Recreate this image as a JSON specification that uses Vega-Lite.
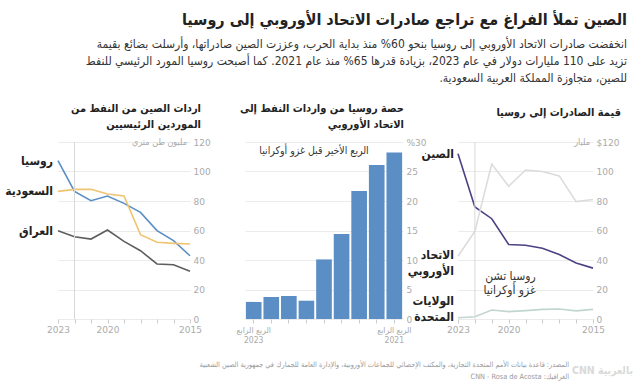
{
  "$schema": "https://vega.github.io/schema/vega-lite/v6.json",
  "background": "white",
  "padding": {"top": 12, "left": 5, "right": 5, "bottom": 2},
  "config": {
    "font": "DejaVu Sans Condensed",
    "view": {"stroke": null},
    "axis": {"labelFont": "DejaVu Sans", "labelColor": "#aaaaaa", "labelFontSize": 9, "title": null, "domain": false, "gridColor": "#ebebeb", "tickColor": "#cccccc", "labelOverlap": false, "labelFlush": false}
  },
  "title": {
    "text": "الصين تملأ الفراغ مع تراجع صادرات الاتحاد الأوروبي إلى روسيا",
    "subtitle": [
      "انخفضت صادرات الاتحاد الأوروبي إلى روسيا بنحو 60% منذ بداية الحرب، وعززت الصين صادراتها، وأرسلت بضائع بقيمة",
      "تزيد على 110 مليارات دولار في عام 2023، بزيادة قدرها 65% منذ عام 2021. كما أصبحت روسيا المورد الرئيسي للنفط",
      "للصين، متجاوزة المملكة العربية السعودية.\u200f"
    ],
    "anchor": "end",
    "font": "DejaVu Sans Condensed",
    "fontSize": 16,
    "fontWeight": "bold",
    "color": "#222222",
    "subtitleFont": "DejaVu Sans Condensed",
    "subtitleFontSize": 12,
    "subtitleColor": "#333333",
    "subtitleLineHeight": 17,
    "subtitlePadding": 11,
    "offset": 19,
    "dx": -6
  },
  "vconcat": [
    {
      "title": {
        "text": "CNN بالعربية",
        "orient": "bottom",
        "anchor": "end",
        "font": "DejaVu Sans Condensed",
        "fontSize": 10.5,
        "fontWeight": "bold",
        "color": "#d9d9d9",
        "offset": 0,
        "dy": -14,
        "dx": 12
      },
      "vconcat": [
        {
          "bounds": "flush",
          "spacing": 55,
          "resolve": {"scale": {"color": "independent"}},
          "title": {
            "text": [
              "المصدر: قاعدة بيانات الأمم المتحدة التجارية، والمكتب الإحصائي للجماعات الأوروبية، والإدارة العامة للجمارك في جمهورية الصين الشعبية",
              "CNN - Rosa de Acosta :الغرافيك"
            ],
            "orient": "bottom",
            "anchor": "end",
            "font": "DejaVu Sans Condensed",
            "fontSize": 7.3,
            "fontWeight": "normal",
            "color": "#999999",
            "lineHeight": 12,
            "offset": 17,
            "dx": -52
          },
          "hconcat": [
            {
              "width": 132,
              "height": 177,
              "title": {"text": ["اردات الصين من النفط من", "الموردين الرئيسيين"], "anchor": "end", "frame": "group", "fontSize": 11, "fontWeight": "bold", "color": "#222222", "lineHeight": 16, "offset": 8, "dx": 11},
              "data": {"values": [
                {"year": 2015, "country": "روسيا", "value": 42.9},
                {"year": 2016, "country": "روسيا", "value": 53.1},
                {"year": 2017, "country": "روسيا", "value": 59.9},
                {"year": 2018, "country": "روسيا", "value": 72.3},
                {"year": 2019, "country": "روسيا", "value": 78.4},
                {"year": 2020, "country": "روسيا", "value": 83.4},
                {"year": 2021, "country": "روسيا", "value": 80.2},
                {"year": 2022, "country": "روسيا", "value": 86.5},
                {"year": 2023, "country": "روسيا", "value": 107.3},
                {"year": 2015, "country": "السعودية", "value": 50.8},
                {"year": 2016, "country": "السعودية", "value": 51.3},
                {"year": 2017, "country": "السعودية", "value": 52.0},
                {"year": 2018, "country": "السعودية", "value": 57.2},
                {"year": 2019, "country": "السعودية", "value": 83.4},
                {"year": 2020, "country": "السعودية", "value": 84.7},
                {"year": 2021, "country": "السعودية", "value": 87.9},
                {"year": 2022, "country": "السعودية", "value": 87.9},
                {"year": 2023, "country": "السعودية", "value": 86.5},
                {"year": 2015, "country": "العراق", "value": 32.3},
                {"year": 2016, "country": "العراق", "value": 36.8},
                {"year": 2017, "country": "العراق", "value": 37.3},
                {"year": 2018, "country": "العراق", "value": 46.3},
                {"year": 2019, "country": "العراق", "value": 52.6},
                {"year": 2020, "country": "العراق", "value": 60.3},
                {"year": 2021, "country": "العراق", "value": 54.2},
                {"year": 2022, "country": "العراق", "value": 55.8},
                {"year": 2023, "country": "العراق", "value": 59.9}
              ]},
              "layer": [
                {
                  "mark": {"type": "line", "strokeWidth": 1.6},
                  "encoding": {
                    "x": {"field": "year", "type": "quantitative", "scale": {"domain": [2015, 2023], "reverse": true, "nice": false, "zero": false},
                      "axis": {"values": [2015, 2016, 2017, 2018, 2019, 2020, 2021, 2022, 2023], "tickCount": 20, "format": "d", "labelExpr": "(datum.value == 2015 || datum.value == 2020 || datum.value == 2023) ? datum.label : ''", "grid": false, "ticks": true, "tickSize": 4, "labelPadding": 2, "labelOverlap": false, "labelFlush": false}},
                    "y": {"field": "value", "type": "quantitative", "scale": {"domain": [0, 120], "nice": false},
                      "axis": {"orient": "right", "values": [0, 20, 40, 60, 80, 100, 120], "tickCount": 20, "grid": true, "ticks": false, "labelAlign": "left", "labelBaseline": "middle", "labelPadding": 3, "labelOverlap": false}},
                    "color": {"field": "country", "type": "nominal", "legend": null,
                      "scale": {"domain": ["روسيا", "السعودية", "العراق"], "range": ["#5b8ec4", "#f0c470", "#5e5e5e"]}}
                  }
                },
                {
                  "data": {"values": [{"year": 2022}]},
                  "mark": {"type": "rule", "color": "#d9d9d9", "strokeWidth": 1},
                  "encoding": {"x": {"field": "year", "type": "quantitative"}}
                },
                {
                  "data": {"values": [{"year": 2015, "value": 120, "unit": "مليون طن متري"}]},
                  "mark": {"type": "text", "align": "right", "baseline": "middle", "dx": -3, "fontSize": 9, "color": "#aaaaaa"},
                  "encoding": {"x": {"field": "year", "type": "quantitative"}, "y": {"field": "value", "type": "quantitative"}, "text": {"field": "unit"}}
                },
                {
                  "transform": [{"filter": "datum.year == 2023"}],
                  "mark": {"type": "text", "align": "right", "baseline": "middle", "dx": -5, "fontSize": 12, "fontWeight": "bold", "color": "#222222"},
                  "encoding": {"x": {"field": "year", "type": "quantitative"}, "y": {"field": "value", "type": "quantitative"}, "text": {"field": "country"}}
                }
              ]
            },
            {
              "width": 158,
              "height": 177,
              "title": {"text": ["حصة روسيا من واردات النفط إلى", "الاتحاد الأوروبي"], "anchor": "end", "frame": "group", "fontSize": 11, "fontWeight": "bold", "color": "#222222", "lineHeight": 16, "offset": 8, "dx": 1},
              "data": {"values": [
                {"quarter": "2021Q4", "share": 28.2},
                {"quarter": "2022Q1", "share": 26.1},
                {"quarter": "2022Q2", "share": 21.7},
                {"quarter": "2022Q3", "share": 14.4},
                {"quarter": "2022Q4", "share": 10.1},
                {"quarter": "2023Q1", "share": 3.1},
                {"quarter": "2023Q2", "share": 3.9},
                {"quarter": "2023Q3", "share": 3.75},
                {"quarter": "2023Q4", "share": 2.9}
              ]},
              "layer": [
                {
                  "mark": {"type": "bar", "color": "#5b8ec4"},
                  "encoding": {
                    "x": {"field": "quarter", "type": "ordinal", "scale": {"reverse": true, "paddingInner": 0.11, "paddingOuter": 0.05},
                      "axis": {"labelExpr": "datum.value == '2023Q4' ? ['الربع الرابع', '2023'] : (datum.value == '2021Q4' ? ['الربع الرابع', '2021'] : '')", "labelAngle": 0, "labelFont": "DejaVu Sans Condensed", "labelFontSize": 8.5, "ticks": true, "tickSize": 4, "labelPadding": 2, "labelLineHeight": 10, "grid": false, "labelOverlap": false}},
                    "y": {"field": "share", "type": "quantitative", "scale": {"domain": [0, 30], "nice": false},
                      "axis": {"orient": "right", "values": [0, 5, 10, 15, 20, 25, 30], "tickCount": 20, "labelExpr": "datum.value == 30 ? '%30' : datum.label", "grid": true, "ticks": false, "labelAlign": "left", "labelBaseline": "middle", "labelPadding": 3, "labelOverlap": false}}
                  }
                },
                {
                  "data": {"values": [{"quarter": "2022Q1", "share": 28.4, "note": "الربع الأخير قبل غزو أوكرانيا"}]},
                  "mark": {"type": "text", "align": "right", "baseline": "middle", "dx": -8, "fontSize": 10.5, "color": "#333333"},
                  "encoding": {"x": {"field": "quarter", "type": "ordinal"}, "y": {"field": "share", "type": "quantitative"}, "text": {"field": "note"}}
                }
              ]
            },
            {
              "width": 135,
              "height": 177,
              "title": {"text": "قيمة الصادرات إلى روسيا", "anchor": "end", "frame": "group", "fontSize": 11, "fontWeight": "bold", "color": "#222222", "offset": 20, "dx": 28},
              "data": {"values": [
                {"year": 2015, "region": "الصين", "value": 34.5},
                {"year": 2016, "region": "الصين", "value": 38},
                {"year": 2017, "region": "الصين", "value": 43.7},
                {"year": 2018, "region": "الصين", "value": 48},
                {"year": 2019, "region": "الصين", "value": 50},
                {"year": 2020, "region": "الصين", "value": 50.5},
                {"year": 2021, "region": "الصين", "value": 68},
                {"year": 2022, "region": "الصين", "value": 76},
                {"year": 2023, "region": "الصين", "value": 112},
                {"year": 2015, "region": "الاتحاد الأوروبي", "value": 81},
                {"year": 2016, "region": "الاتحاد الأوروبي", "value": 79.6},
                {"year": 2017, "region": "الاتحاد الأوروبي", "value": 97},
                {"year": 2018, "region": "الاتحاد الأوروبي", "value": 100},
                {"year": 2019, "region": "الاتحاد الأوروبي", "value": 101},
                {"year": 2020, "region": "الاتحاد الأوروبي", "value": 90},
                {"year": 2021, "region": "الاتحاد الأوروبي", "value": 105},
                {"year": 2022, "region": "الاتحاد الأوروبي", "value": 59.6},
                {"year": 2023, "region": "الاتحاد الأوروبي", "value": 42.5},
                {"year": 2015, "region": "الولايات المتحدة", "value": 6.5},
                {"year": 2016, "region": "الولايات المتحدة", "value": 5.5},
                {"year": 2017, "region": "الولايات المتحدة", "value": 6.8},
                {"year": 2018, "region": "الولايات المتحدة", "value": 6.5},
                {"year": 2019, "region": "الولايات المتحدة", "value": 5.7},
                {"year": 2020, "region": "الولايات المتحدة", "value": 5},
                {"year": 2021, "region": "الولايات المتحدة", "value": 6.1},
                {"year": 2022, "region": "الولايات المتحدة", "value": 1.5},
                {"year": 2023, "region": "الولايات المتحدة", "value": 0.8}
              ]},
              "layer": [
                {
                  "mark": {"type": "line", "strokeWidth": 1.6},
                  "encoding": {
                    "x": {"field": "year", "type": "quantitative", "scale": {"domain": [2015, 2023], "reverse": true, "nice": false, "zero": false},
                      "axis": {"values": [2015, 2016, 2017, 2018, 2019, 2020, 2021, 2022, 2023], "tickCount": 20, "format": "d", "labelExpr": "(datum.value == 2015 || datum.value == 2020 || datum.value == 2023) ? datum.label : ''", "grid": false, "ticks": true, "tickSize": 4, "labelPadding": 2, "labelOverlap": false, "labelFlush": false}},
                    "y": {"field": "value", "type": "quantitative", "scale": {"domain": [0, 120], "nice": false},
                      "axis": {"orient": "right", "values": [0, 20, 40, 60, 80, 100, 120], "tickCount": 20, "labelExpr": "datum.value == 120 ? '$120' : datum.label", "grid": true, "ticks": false, "labelAlign": "left", "labelBaseline": "middle", "labelPadding": 3, "labelOverlap": false}},
                    "color": {"field": "region", "type": "nominal", "legend": null,
                      "scale": {"domain": ["الصين", "الاتحاد الأوروبي", "الولايات المتحدة"], "range": ["#4b4184", "#dcdcdc", "#c2d6d1"]}}
                  }
                },
                {
                  "data": {"values": [{"year": 2022}]},
                  "mark": {"type": "rule", "color": "#d9d9d9", "strokeWidth": 1},
                  "encoding": {"x": {"field": "year", "type": "quantitative"}}
                },
                {
                  "data": {"values": [{"year": 2015, "value": 120, "unit": "مليار"}]},
                  "mark": {"type": "text", "align": "right", "baseline": "middle", "dx": -3, "fontSize": 9, "color": "#aaaaaa"},
                  "encoding": {"x": {"field": "year", "type": "quantitative"}, "y": {"field": "value", "type": "quantitative"}, "text": {"field": "unit"}}
                },
                {
                  "data": {"values": [{"year": 2018.4, "value": 29.2, "note": "روسيا تشن|غزو أوكرانيا"}]},
                  "mark": {"type": "text", "align": "right", "baseline": "middle", "fontSize": 12, "color": "#333333", "lineBreak": "|", "lineHeight": 14},
                  "encoding": {"x": {"field": "year", "type": "quantitative"}, "y": {"field": "value", "type": "quantitative"}, "text": {"field": "note"}}
                },
                {
                  "transform": [{"filter": "datum.year == 2023 && datum.region == 'الصين'"}],
                  "mark": {"type": "text", "align": "right", "baseline": "middle", "dx": -4, "fontSize": 12, "fontWeight": "bold", "color": "#222222"},
                  "encoding": {"x": {"field": "year", "type": "quantitative"}, "y": {"field": "value", "type": "quantitative"}, "text": {"field": "region"}}
                },
                {
                  "transform": [{"filter": "datum.year == 2023 && datum.region == 'الاتحاد الأوروبي'"}],
                  "mark": {"type": "text", "align": "right", "baseline": "middle", "dx": -4, "dy": -1, "fontSize": 12, "fontWeight": "bold", "color": "#222222", "lineBreak": " ", "lineHeight": 16},
                  "encoding": {"x": {"field": "year", "type": "quantitative"}, "y": {"field": "value", "type": "quantitative"}, "text": {"field": "region"}}
                },
                {
                  "transform": [{"filter": "datum.year == 2023 && datum.region == 'الولايات المتحدة'"}],
                  "mark": {"type": "text", "align": "right", "baseline": "middle", "dx": -4, "dy": -17, "fontSize": 12, "fontWeight": "bold", "color": "#222222", "lineBreak": " ", "lineHeight": 16},
                  "encoding": {"x": {"field": "year", "type": "quantitative"}, "y": {"field": "value", "type": "quantitative"}, "text": {"field": "region"}}
                }
              ]
            }
          ]
        }
      ]
    }
  ]
}
